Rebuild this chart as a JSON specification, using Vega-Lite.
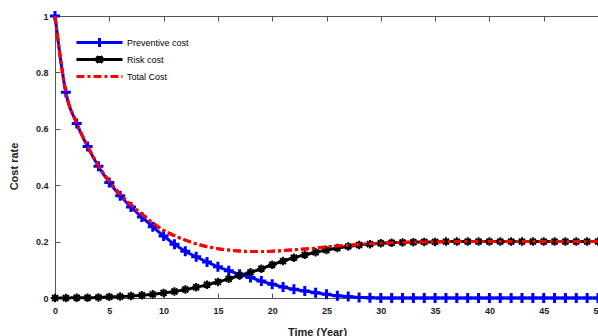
{
  "$schema": "https://vega.github.io/schema/vega-lite/v6.json",
  "width": 543,
  "height": 282,
  "autosize": {"type": "none"},
  "padding": {"left": 55, "top": 16, "right": 0, "bottom": 38},
  "config": {
    "view": {"stroke": null},
    "font": "Liberation Sans",
    "axis": {
      "domainColor": "#555555",
      "tickColor": "#555555",
      "labelFont": "Liberation Sans",
      "labelFontWeight": "bold",
      "labelFontSize": 9,
      "labelColor": "#222222",
      "titleFont": "Liberation Sans",
      "titleFontWeight": "bold",
      "titleFontSize": 11,
      "titleColor": "#222222",
      "grid": false,
      "labelFlush": false,
      "labelOverlap": false
    }
  },
  "data": {
    "values": [
      {"t": 0, "series": "Preventive cost", "v": 1.0},
      {"t": 1, "series": "Preventive cost", "v": 0.73},
      {"t": 2, "series": "Preventive cost", "v": 0.619},
      {"t": 3, "series": "Preventive cost", "v": 0.537},
      {"t": 4, "series": "Preventive cost", "v": 0.467},
      {"t": 5, "series": "Preventive cost", "v": 0.41},
      {"t": 6, "series": "Preventive cost", "v": 0.363},
      {"t": 7, "series": "Preventive cost", "v": 0.323},
      {"t": 8, "series": "Preventive cost", "v": 0.287},
      {"t": 9, "series": "Preventive cost", "v": 0.253},
      {"t": 10, "series": "Preventive cost", "v": 0.22},
      {"t": 11, "series": "Preventive cost", "v": 0.191},
      {"t": 12, "series": "Preventive cost", "v": 0.166},
      {"t": 13, "series": "Preventive cost", "v": 0.146},
      {"t": 14, "series": "Preventive cost", "v": 0.128},
      {"t": 15, "series": "Preventive cost", "v": 0.111},
      {"t": 16, "series": "Preventive cost", "v": 0.097},
      {"t": 17, "series": "Preventive cost", "v": 0.084},
      {"t": 18, "series": "Preventive cost", "v": 0.073},
      {"t": 19, "series": "Preventive cost", "v": 0.06},
      {"t": 20, "series": "Preventive cost", "v": 0.049},
      {"t": 21, "series": "Preventive cost", "v": 0.039},
      {"t": 22, "series": "Preventive cost", "v": 0.031},
      {"t": 23, "series": "Preventive cost", "v": 0.025},
      {"t": 24, "series": "Preventive cost", "v": 0.019},
      {"t": 25, "series": "Preventive cost", "v": 0.013},
      {"t": 26, "series": "Preventive cost", "v": 0.008},
      {"t": 27, "series": "Preventive cost", "v": 0.005},
      {"t": 28, "series": "Preventive cost", "v": 0.002},
      {"t": 29, "series": "Preventive cost", "v": 0.001},
      {"t": 30, "series": "Preventive cost", "v": 0.0},
      {"t": 31, "series": "Preventive cost", "v": 0.0},
      {"t": 32, "series": "Preventive cost", "v": 0.0},
      {"t": 33, "series": "Preventive cost", "v": 0.0},
      {"t": 34, "series": "Preventive cost", "v": 0.0},
      {"t": 35, "series": "Preventive cost", "v": 0.0},
      {"t": 36, "series": "Preventive cost", "v": 0.0},
      {"t": 37, "series": "Preventive cost", "v": 0.0},
      {"t": 38, "series": "Preventive cost", "v": 0.0},
      {"t": 39, "series": "Preventive cost", "v": 0.0},
      {"t": 40, "series": "Preventive cost", "v": 0.0},
      {"t": 41, "series": "Preventive cost", "v": 0.0},
      {"t": 42, "series": "Preventive cost", "v": 0.0},
      {"t": 43, "series": "Preventive cost", "v": 0.0},
      {"t": 44, "series": "Preventive cost", "v": 0.0},
      {"t": 45, "series": "Preventive cost", "v": 0.0},
      {"t": 46, "series": "Preventive cost", "v": 0.0},
      {"t": 47, "series": "Preventive cost", "v": 0.0},
      {"t": 48, "series": "Preventive cost", "v": 0.0},
      {"t": 49, "series": "Preventive cost", "v": 0.0},
      {"t": 50, "series": "Preventive cost", "v": 0.0},
      {"t": 0, "series": "Risk cost", "v": 0.0},
      {"t": 1, "series": "Risk cost", "v": 0.0},
      {"t": 2, "series": "Risk cost", "v": 0.001},
      {"t": 3, "series": "Risk cost", "v": 0.001},
      {"t": 4, "series": "Risk cost", "v": 0.002},
      {"t": 5, "series": "Risk cost", "v": 0.004},
      {"t": 6, "series": "Risk cost", "v": 0.005},
      {"t": 7, "series": "Risk cost", "v": 0.007},
      {"t": 8, "series": "Risk cost", "v": 0.01},
      {"t": 9, "series": "Risk cost", "v": 0.013},
      {"t": 10, "series": "Risk cost", "v": 0.018},
      {"t": 11, "series": "Risk cost", "v": 0.023},
      {"t": 12, "series": "Risk cost", "v": 0.03},
      {"t": 13, "series": "Risk cost", "v": 0.038},
      {"t": 14, "series": "Risk cost", "v": 0.047},
      {"t": 15, "series": "Risk cost", "v": 0.057},
      {"t": 16, "series": "Risk cost", "v": 0.068},
      {"t": 17, "series": "Risk cost", "v": 0.08},
      {"t": 18, "series": "Risk cost", "v": 0.091},
      {"t": 19, "series": "Risk cost", "v": 0.104},
      {"t": 20, "series": "Risk cost", "v": 0.118},
      {"t": 21, "series": "Risk cost", "v": 0.131},
      {"t": 22, "series": "Risk cost", "v": 0.143},
      {"t": 23, "series": "Risk cost", "v": 0.153},
      {"t": 24, "series": "Risk cost", "v": 0.162},
      {"t": 25, "series": "Risk cost", "v": 0.17},
      {"t": 26, "series": "Risk cost", "v": 0.177},
      {"t": 27, "series": "Risk cost", "v": 0.183},
      {"t": 28, "series": "Risk cost", "v": 0.188},
      {"t": 29, "series": "Risk cost", "v": 0.191},
      {"t": 30, "series": "Risk cost", "v": 0.194},
      {"t": 31, "series": "Risk cost", "v": 0.196},
      {"t": 32, "series": "Risk cost", "v": 0.197},
      {"t": 33, "series": "Risk cost", "v": 0.198},
      {"t": 34, "series": "Risk cost", "v": 0.199},
      {"t": 35, "series": "Risk cost", "v": 0.199},
      {"t": 36, "series": "Risk cost", "v": 0.2},
      {"t": 37, "series": "Risk cost", "v": 0.2},
      {"t": 38, "series": "Risk cost", "v": 0.2},
      {"t": 39, "series": "Risk cost", "v": 0.2},
      {"t": 40, "series": "Risk cost", "v": 0.2},
      {"t": 41, "series": "Risk cost", "v": 0.2},
      {"t": 42, "series": "Risk cost", "v": 0.2},
      {"t": 43, "series": "Risk cost", "v": 0.2},
      {"t": 44, "series": "Risk cost", "v": 0.2},
      {"t": 45, "series": "Risk cost", "v": 0.2},
      {"t": 46, "series": "Risk cost", "v": 0.2},
      {"t": 47, "series": "Risk cost", "v": 0.2},
      {"t": 48, "series": "Risk cost", "v": 0.2},
      {"t": 49, "series": "Risk cost", "v": 0.2},
      {"t": 50, "series": "Risk cost", "v": 0.2},
      {"t": 0, "series": "Total Cost", "v": 1.0},
      {"t": 1, "series": "Total Cost", "v": 0.73},
      {"t": 2, "series": "Total Cost", "v": 0.62},
      {"t": 3, "series": "Total Cost", "v": 0.538},
      {"t": 4, "series": "Total Cost", "v": 0.469},
      {"t": 5, "series": "Total Cost", "v": 0.414},
      {"t": 6, "series": "Total Cost", "v": 0.368},
      {"t": 7, "series": "Total Cost", "v": 0.33},
      {"t": 8, "series": "Total Cost", "v": 0.297},
      {"t": 9, "series": "Total Cost", "v": 0.266},
      {"t": 10, "series": "Total Cost", "v": 0.24},
      {"t": 11, "series": "Total Cost", "v": 0.221},
      {"t": 12, "series": "Total Cost", "v": 0.205},
      {"t": 13, "series": "Total Cost", "v": 0.192},
      {"t": 14, "series": "Total Cost", "v": 0.182},
      {"t": 15, "series": "Total Cost", "v": 0.175},
      {"t": 16, "series": "Total Cost", "v": 0.17},
      {"t": 17, "series": "Total Cost", "v": 0.167},
      {"t": 18, "series": "Total Cost", "v": 0.165},
      {"t": 19, "series": "Total Cost", "v": 0.165},
      {"t": 20, "series": "Total Cost", "v": 0.166},
      {"t": 21, "series": "Total Cost", "v": 0.168},
      {"t": 22, "series": "Total Cost", "v": 0.171},
      {"t": 23, "series": "Total Cost", "v": 0.174},
      {"t": 24, "series": "Total Cost", "v": 0.177},
      {"t": 25, "series": "Total Cost", "v": 0.181},
      {"t": 26, "series": "Total Cost", "v": 0.184},
      {"t": 27, "series": "Total Cost", "v": 0.187},
      {"t": 28, "series": "Total Cost", "v": 0.19},
      {"t": 29, "series": "Total Cost", "v": 0.192},
      {"t": 30, "series": "Total Cost", "v": 0.194},
      {"t": 31, "series": "Total Cost", "v": 0.196},
      {"t": 32, "series": "Total Cost", "v": 0.197},
      {"t": 33, "series": "Total Cost", "v": 0.198},
      {"t": 34, "series": "Total Cost", "v": 0.199},
      {"t": 35, "series": "Total Cost", "v": 0.199},
      {"t": 36, "series": "Total Cost", "v": 0.2},
      {"t": 37, "series": "Total Cost", "v": 0.2},
      {"t": 38, "series": "Total Cost", "v": 0.2},
      {"t": 39, "series": "Total Cost", "v": 0.2},
      {"t": 40, "series": "Total Cost", "v": 0.2},
      {"t": 41, "series": "Total Cost", "v": 0.2},
      {"t": 42, "series": "Total Cost", "v": 0.2},
      {"t": 43, "series": "Total Cost", "v": 0.2},
      {"t": 44, "series": "Total Cost", "v": 0.2},
      {"t": 45, "series": "Total Cost", "v": 0.2},
      {"t": 46, "series": "Total Cost", "v": 0.2},
      {"t": 47, "series": "Total Cost", "v": 0.2},
      {"t": 48, "series": "Total Cost", "v": 0.2},
      {"t": 49, "series": "Total Cost", "v": 0.2},
      {"t": 50, "series": "Total Cost", "v": 0.2}
    ]
  },
  "resolve": {"axis": {"x": "independent"}},
  "layer": [
    {
      "mark": {"type": "line", "strokeWidth": 3, "interpolate": "monotone"},
      "encoding": {
        "x": {
          "field": "t", "type": "quantitative",
          "scale": {"domain": [0, 50], "nice": false},
          "axis": {
            "orient": "bottom", "values": [0, 5, 10, 15, 20, 25, 30, 35, 40, 45, 50],
            "tickSize": -5, "labelPadding": 13, "title": "Time (Year)",
            "titleX": 262, "titleY": 28, "titleBaseline": "top"
          }
        },
        "y": {
          "field": "v", "type": "quantitative",
          "scale": {"domain": [0, 1], "nice": false},
          "axis": {
            "values": [0, 0.2, 0.4, 0.6, 0.8, 1], "format": "~g",
            "tickSize": -5, "labelPadding": 12, "title": "Cost rate",
            "titleX": -36, "titleY": 150, "titleAngle": -90, "titleBaseline": "bottom"
          }
        },
        "color": {
          "field": "series", "type": "nominal",
          "scale": {"domain": ["Preventive cost", "Risk cost", "Total Cost"], "range": ["#0000ff", "#000000", "#ff0000"]},
          "legend": {
            "orient": "none", "legendX": 39, "legendY": 21, "title": null,
            "symbolType": "M-6,0L6,0", "symbolSize": 59, "symbolStrokeWidth": 3,
            "labelFont": "Liberation Sans", "labelFontSize": 9, "labelColor": "#000000",
            "labelOffset": 22, "rowPadding": -4, "padding": 0, "gridAlign": "all",
            "encode": {
              "symbols": {
                "update": {
                  "shape": {"signal": "datum.value == 'Preventive cost' ? 'M-6,0L6,0M0,-1.2L0,1.2' : datum.value == 'Risk cost' ? 'M-6,0L6,0M0,-0.9L0,0.9M-0.8,-0.8L0.8,0.8M-0.8,0.8L0.8,-0.8' : 'M-6,0L6,0'"}
                }
              }
            }
          }
        },
        "strokeDash": {
          "field": "series", "type": "nominal",
          "scale": {"domain": ["Preventive cost", "Risk cost", "Total Cost"], "range": [[1, 0], [1, 0], [8, 3, 3, 3]]}
        }
      }
    },
    {
      "transform": [{"filter": "datum.series == 'Preventive cost'"}],
      "mark": {"type": "point", "shape": "M-1,0L1,0M0,-1L0,1", "filled": false, "stroke": "#0000ff", "strokeWidth": 3, "size": 100, "opacity": 1},
      "encoding": {
        "x": {"field": "t", "type": "quantitative", "axis": null},
        "y": {"field": "v", "type": "quantitative"}
      }
    },
    {
      "transform": [{"filter": "datum.series == 'Risk cost'"}],
      "mark": {"type": "point", "shape": "M-1,0L1,0M0,-1L0,1M-0.7,-0.7L0.7,0.7M-0.7,0.7L0.7,-0.7", "filled": false, "stroke": "#000000", "strokeWidth": 2, "size": 72, "opacity": 1},
      "encoding": {
        "x": {"field": "t", "type": "quantitative", "axis": null},
        "y": {"field": "v", "type": "quantitative"}
      }
    },
    {
      "transform": [{"filter": "datum.series == 'Total Cost'"}],
      "mark": {"type": "line", "strokeWidth": 3, "interpolate": "monotone", "stroke": "#ff0000", "strokeDash": [8, 3, 3, 3]},
      "encoding": {
        "x": {
          "field": "t", "type": "quantitative",
          "axis": {"orient": "top", "values": [0, 5, 10, 15, 20, 25, 30, 35, 40, 45, 50], "labels": false, "tickSize": -5, "title": null}
        },
        "y": {"field": "v", "type": "quantitative"}
      }
    }
  ]
}
